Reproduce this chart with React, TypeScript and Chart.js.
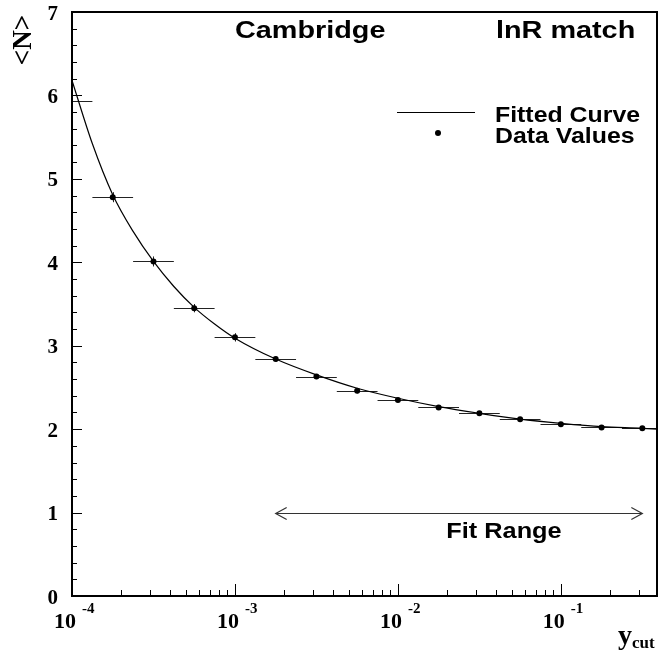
import React, { useEffect, useRef } from "react";
import { Chart, registerables } from "chart.js";

Chart.register(...registerables);

// Data points (y_cut bin centres) and <N> values
const xData = [1.0e-4, 1.778e-4, 3.162e-4, 5.623e-4, 1.0e-3, 1.778e-3, 3.162e-3, 5.623e-3, 1.0e-2, 1.778e-2, 3.162e-2, 5.623e-2, 1.0e-1, 1.778e-1, 3.162e-1];
const yData = [5.93, 4.78, 4.01, 3.45, 3.10, 2.84, 2.63, 2.46, 2.35, 2.26, 2.19, 2.12, 2.06, 2.02, 2.01];
const yErr = [0.06, 0.06, 0.06, 0.05, 0.05, 0.03, 0.03, 0.03, 0.02, 0.02, 0.02, 0.02, 0.02, 0.02, 0.02];
const xLow = [7.5e-5, 1.334e-4, 2.371e-4, 4.217e-4, 7.5e-4, 1.334e-3, 2.371e-3, 4.217e-3, 7.5e-3, 1.334e-2, 2.371e-2, 4.217e-2, 7.5e-2, 1.334e-1, 2.371e-1];
const xHigh = [1.334e-4, 2.371e-4, 4.217e-4, 7.5e-4, 1.334e-3, 2.371e-3, 4.217e-3, 7.5e-3, 1.334e-2, 2.371e-2, 4.217e-2, 7.5e-2, 1.334e-1, 2.371e-1, 4.217e-1];

// Fitted curve
const curveX = [1.0e-4, 1.334e-4, 1.778e-4, 2.371e-4, 3.162e-4, 4.217e-4, 5.623e-4, 7.5e-4, 1.0e-3, 1.778e-3, 3.162e-3, 5.623e-3, 1.0e-2, 1.778e-2, 3.162e-2, 5.623e-2, 1.0e-1, 1.778e-1, 3.162e-1, 3.89e-1];
const curveY = [6.18, 5.42, 4.81, 4.37, 4.01, 3.71, 3.46, 3.26, 3.09, 2.84, 2.65, 2.49, 2.37, 2.27, 2.19, 2.12, 2.07, 2.03, 2.01, 2.0];

// Axes
const xMin = 1e-4;
const xMax = 0.389;
const yMin = 0;
const yMax = 7;
const xMajorTicks = [1e-4, 1e-3, 1e-2, 1e-1];
const xTickExponents = ["-4", "-3", "-2", "-1"];
const yMajorTicks = [0, 1, 2, 3, 4, 5, 6, 7];
const yTickLabels = ["0", "1", "2", "3", "4", "5", "6", "7"];

// Fit range
const fitLow = 1.778e-3;
const fitHigh = 3.162e-1;
const fitLevel = 1.0;

const titleLeft = "Cambridge";
const titleRight = "lnR match";
const legendLabels = ["Fitted Curve", "Data Values"];
const fitLabel = "Fit Range";

const SANS = "'Liberation Sans', Arial, sans-serif";
const SERIF = "'Liberation Serif', 'Times New Roman', serif";

function stretchText(ctx: CanvasRenderingContext2D, text: string, x: number, y: number, font: string, sx: number, align: CanvasTextAlign = "left") {
  ctx.save();
  ctx.translate(x, y);
  ctx.scale(sx, 1);
  ctx.font = font;
  ctx.textAlign = align;
  ctx.textBaseline = "alphabetic";
  ctx.fillStyle = "#000";
  ctx.fillText(text, 0, 0);
  ctx.restore();
}

const decorPlugin = {
  id: "decor",
  beforeDatasetsDraw(chart: any) {
    const ctx: CanvasRenderingContext2D = chart.ctx;
    const xs = chart.scales.x;
    const ys = chart.scales.y;
    const a = chart.chartArea;
    ctx.save();
    ctx.beginPath();
    ctx.rect(a.left, a.top, a.right - a.left, a.bottom - a.top);
    ctx.clip();
    ctx.strokeStyle = "#222";
    ctx.lineWidth = 1;
    for (let i = 0; i < xData.length; i++) {
      const py = Math.round(ys.getPixelForValue(yData[i])) + 0.5;
      const x1 = xs.getPixelForValue(xLow[i]);
      const x2 = xs.getPixelForValue(xHigh[i]);
      ctx.beginPath();
      ctx.moveTo(x1, py);
      ctx.lineTo(x2, py);
      ctx.stroke();
      const px = Math.round(xs.getPixelForValue(xData[i])) + 0.5;
      ctx.beginPath();
      ctx.moveTo(px, ys.getPixelForValue(yData[i] - yErr[i]));
      ctx.lineTo(px, ys.getPixelForValue(yData[i] + yErr[i]));
      ctx.stroke();
    }
    ctx.restore();
  },
  afterDraw(chart: any) {
    const ctx: CanvasRenderingContext2D = chart.ctx;
    const xs = chart.scales.x;
    const ys = chart.scales.y;
    const a = chart.chartArea;
    ctx.save();
    ctx.strokeStyle = "#000";
    ctx.fillStyle = "#000";

    // frame
    ctx.lineWidth = 2;
    ctx.strokeRect(a.left, a.top, a.right - a.left, a.bottom - a.top);

    // x ticks
    ctx.lineWidth = 1;
    for (const d of xMajorTicks) {
      const px = Math.round(xs.getPixelForValue(d)) + 0.5;
      ctx.beginPath();
      ctx.moveTo(px, a.bottom);
      ctx.lineTo(px, a.bottom - 12);
      ctx.stroke();
      for (let m = 2; m <= 9; m++) {
        const v = d * m;
        if (v > xMax) break;
        const pm = Math.round(xs.getPixelForValue(v)) + 0.5;
        ctx.beginPath();
        ctx.moveTo(pm, a.bottom);
        ctx.lineTo(pm, a.bottom - 6);
        ctx.stroke();
      }
    }
    // y ticks
    for (let k = 0; k < yMajorTicks.length; k++) {
      const v = yMajorTicks[k];
      const py = Math.round(ys.getPixelForValue(v)) + 0.5;
      ctx.beginPath();
      ctx.moveTo(a.left, py);
      ctx.lineTo(a.left + 10, py);
      ctx.stroke();
      if (k < yMajorTicks.length - 1) {
        for (let j = 1; j < 5; j++) {
          const pm = Math.round(ys.getPixelForValue(v + j * 0.2)) + 0.5;
          ctx.beginPath();
          ctx.moveTo(a.left, pm);
          ctx.lineTo(a.left + 5, pm);
          ctx.stroke();
        }
      }
    }

    // y tick labels
    ctx.font = `bold 21px ${SERIF}`;
    ctx.textAlign = "right";
    ctx.textBaseline = "alphabetic";
    for (let k = 0; k < yMajorTicks.length; k++) {
      const py = ys.getPixelForValue(yMajorTicks[k]);
      ctx.fillText(yTickLabels[k], a.left - 14, py + 7.5);
    }
    // x tick labels
    for (let k = 0; k < xMajorTicks.length; k++) {
      const px = xs.getPixelForValue(xMajorTicks[k]);
      ctx.font = `bold 22px ${SERIF}`;
      ctx.textAlign = "right";
      ctx.fillText("10", px + 4, a.bottom + 32);
      ctx.font = `bold 15px ${SERIF}`;
      ctx.textAlign = "left";
      ctx.fillText(xTickExponents[k], px + 10, a.bottom + 17);
    }

    // axis titles
    ctx.save();
    ctx.translate(24, 40);
    ctx.rotate(-Math.PI / 2);
    ctx.font = `bold 27px ${SERIF}`;
    ctx.textAlign = "center";
    ctx.textBaseline = "middle";
    ctx.fillText("<N>", 0, 0);
    ctx.restore();

    ctx.font = `bold 28px ${SERIF}`;
    ctx.textAlign = "left";
    ctx.textBaseline = "alphabetic";
    ctx.fillText("y", 618, a.bottom + 48);
    ctx.font = `bold 17px ${SERIF}`;
    ctx.fillText("cut", 632, a.bottom + 52);

    // titles
    stretchText(ctx, titleLeft, 235, 38, `bold 24px ${SANS}`, 1.2);
    stretchText(ctx, titleRight, 496, 38, `bold 24px ${SANS}`, 1.2);

    // legend
    ctx.lineWidth = 1;
    ctx.beginPath();
    ctx.moveTo(397, 112.5);
    ctx.lineTo(475, 112.5);
    ctx.stroke();
    ctx.beginPath();
    ctx.arc(438, 133, 3, 0, Math.PI * 2);
    ctx.fill();
    stretchText(ctx, legendLabels[0], 495, 122, `bold 22px ${SANS}`, 1.13);
    stretchText(ctx, legendLabels[1], 495, 143, `bold 22px ${SANS}`, 1.13);

    // fit range arrow
    const fx1 = xs.getPixelForValue(fitLow);
    const fx2 = xs.getPixelForValue(fitHigh);
    const fy = Math.round(ys.getPixelForValue(fitLevel)) + 0.5;
    ctx.strokeStyle = "#333";
    ctx.lineWidth = 1.2;
    ctx.beginPath();
    ctx.moveTo(fx1, fy);
    ctx.lineTo(fx2, fy);
    ctx.moveTo(fx1 + 11, fy - 6);
    ctx.lineTo(fx1, fy);
    ctx.lineTo(fx1 + 11, fy + 6);
    ctx.moveTo(fx2 - 11, fy - 6);
    ctx.lineTo(fx2, fy);
    ctx.lineTo(fx2 - 11, fy + 6);
    ctx.stroke();
    stretchText(ctx, fitLabel, 504, fy + 24, `bold 22px ${SANS}`, 1.15, "center");

    ctx.restore();
  },
};

export default function App() {
  const canvasRef = useRef<HTMLCanvasElement | null>(null);

  useEffect(() => {
    if (!canvasRef.current) return;
    const chart = new Chart(canvasRef.current, {
      type: "scatter",
      data: {
        datasets: [
          {
            label: legendLabels[0],
            data: curveX.map((x, i) => ({ x, y: curveY[i] })),
            showLine: true,
            borderColor: "#000",
            borderWidth: 1.2,
            pointRadius: 0,
            cubicInterpolationMode: "monotone",
            fill: false,
          },
          {
            label: legendLabels[1],
            data: xData.map((x, i) => ({ x, y: yData[i] })),
            showLine: false,
            backgroundColor: "#000",
            borderColor: "#000",
            pointRadius: (c: any) => (c.dataIndex === 0 ? 0 : 3),
            pointBorderWidth: 0,
          },
        ],
      },
      options: {
        responsive: false,
        animation: false,
        devicePixelRatio: 1,
        layout: { padding: { left: 72, top: 12, right: 13, bottom: 64 } },
        plugins: { legend: { display: false }, tooltip: { enabled: false }, title: { display: false } },
        scales: {
          x: { type: "logarithmic", min: xMin, max: xMax, display: false },
          y: { type: "linear", min: yMin, max: yMax, display: false },
        },
      },
      plugins: [decorPlugin],
    } as any);
    return () => chart.destroy();
  }, []);

  return (
    <div style={{ position: "absolute", left: 0, top: 0, width: 670, height: 660, background: "#fff" }}>
      <canvas ref={canvasRef} width={670} height={660} style={{ width: 670, height: 660, display: "block" }} />
    </div>
  );
}
